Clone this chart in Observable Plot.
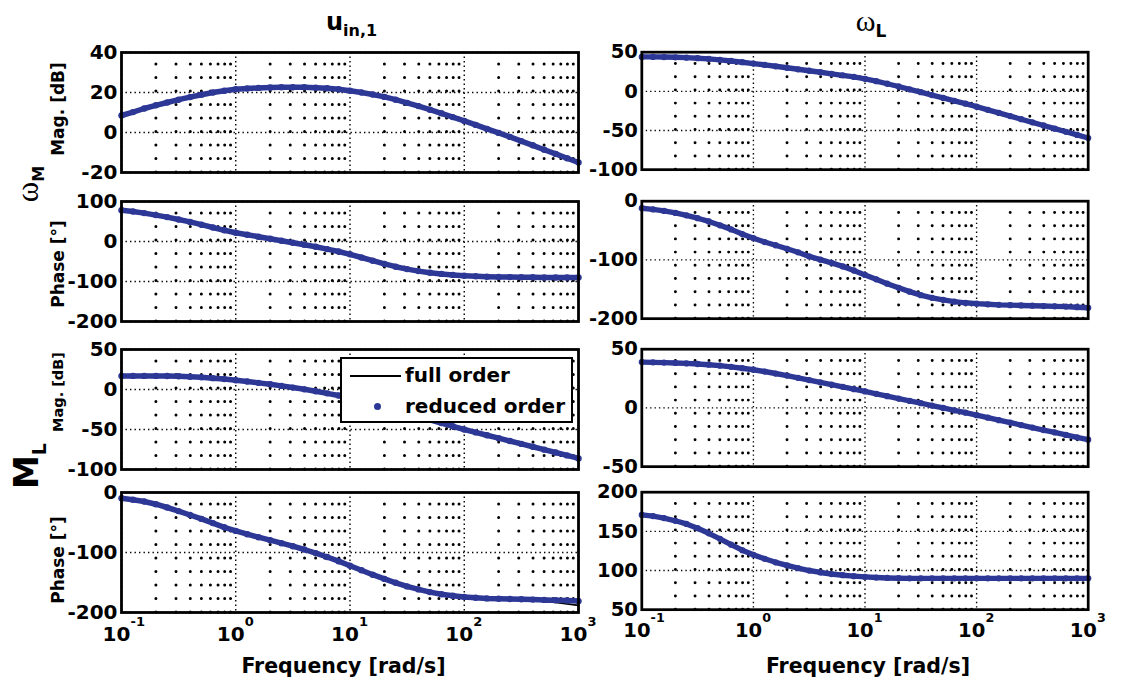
<!DOCTYPE html>
<html><head><meta charset="utf-8">
<script src="https://cdn.jsdelivr.net/npm/d3@7"></script>
<script src="https://cdn.jsdelivr.net/npm/@observablehq/plot@0.6"></script>
<style>
body{margin:0;background:#fff;}
#fig{position:relative;width:1121px;height:680px;font-family:"DejaVu Sans",sans-serif;font-weight:bold;color:#000;overflow:hidden;}
.lbl{position:absolute;white-space:nowrap;line-height:1;}
</style></head><body><div id="fig"></div>
<script>
// ---------- data ----------
const freq = [0.1,0.126,0.158,0.2,0.251,0.316,0.398,0.501,0.631,0.794,1,1.26,1.58,2,2.51,3.16,3.98,5.01,6.31,7.94,10,12.6,15.8,20,25.1,31.6,39.8,50.1,63.1,79.4,100,126,158,200,251,316,398,501,631,794,1000];
// output omega_M, input u_in,1
const magWM_u = [8.5,10.2,12.0,13.6,15.0,16.4,17.7,18.9,20.0,20.9,21.6,22.0,22.3,22.5,22.6,22.6,22.6,22.4,22.1,21.6,20.9,20.0,19.0,17.8,16.4,14.8,13.2,11.4,9.6,7.7,5.8,3.8,1.8,-0.2,-2.2,-4.3,-6.4,-8.6,-10.7,-12.9,-15.0];
const phWM_u = [78,75,71,66,61,55,49,42,35,28,22,17,12,7,2,-3,-8,-13,-19,-25,-32,-40,-48,-56,-63,-69,-74,-78,-81,-83.5,-85.5,-87,-88,-88.5,-89,-89.5,-89.5,-90,-90,-90,-90];
// output M_L, input u_in,1
const magML_u = [17,17,17,17,16.8,16.5,16,15.2,14.2,13,11.5,10,8.3,6.5,4.5,2.4,0.2,-2.2,-4.8,-7.5,-10.5,-14.3,-18.2,-22.1,-26,-30,-34,-38,-42,-46,-50,-53.6,-57.2,-60.8,-64.4,-68,-71.6,-75.2,-78.8,-82.4,-86.2];
const phML_u = [-9.5,-12,-15,-19.5,-25,-31,-37.5,-44,-51,-58,-64,-69.5,-74.5,-79.5,-84.5,-89.5,-95,-101,-107.5,-114.5,-122,-129.5,-137,-144,-150.5,-156.5,-161.5,-166,-169.5,-172,-174,-175.5,-176.5,-177,-177.5,-178,-178.5,-179,-179.5,-180,-181];
const phML_u_full = [-9.5,-12,-15,-19.5,-25,-31,-37.5,-44,-51,-58,-64,-69.5,-74.5,-79.5,-84.5,-89.5,-95,-101,-107.5,-114.5,-122,-129.5,-137,-144,-150.5,-156.5,-161.5,-166,-169.5,-172,-174,-175.5,-176.5,-177,-178,-179,-180,-181.5,-183,-185.5,-188];
// output omega_M, input omega_L
const magWM_wL = [44,44,43.8,43.5,43,42.3,41.4,40.2,38.8,37.2,35.5,33.8,32,30.1,28.2,26.3,24.4,22.4,20.5,18.4,16,13,9.7,6.2,2.6,-1,-4.7,-8.4,-12.1,-15.8,-19.6,-23.6,-27.6,-31.6,-35.6,-39.6,-43.6,-47.6,-51.6,-55.6,-59.6];
const phWM_wL = [-12,-14,-16.5,-20,-24,-29,-34.5,-41,-48,-56,-63,-69.5,-75,-81,-87,-94,-99.5,-105,-111,-118,-125.5,-133,-140.5,-147.5,-154,-160,-164.5,-168,-171,-173,-174.5,-175.5,-176.5,-177,-177.5,-178,-178.5,-179,-179.5,-180.5,-181.5];
// output M_L, input omega_L
const magML_wL = [39,38.8,38.6,38.3,37.9,37.4,36.8,36,35,33.8,32.5,31,29.3,27.5,25.6,23.7,21.8,19.9,18,16,14,12,10,8,6,4,2,0,-2,-4,-6.2,-8.3,-10.4,-12.5,-14.6,-16.7,-18.8,-20.9,-23,-25,-27];
const phML_wL = [171,169.5,167,163.5,159.5,154,147.5,140.5,133,126,120,115,110.5,106.5,103,100,97.5,95.5,94,92.8,91.8,91,90.5,90.2,90,90,90,90,90,90,90,90,90,90,90,90,90,90,90,90,90];

// ticks
const decades = [0.1,1,10,100,1000];
const decadeExp = ["-1","0","1","2","3"];
const minorX = [0.2,0.3,0.4,0.5,0.6,0.7,0.8,0.9,2,3,4,5,6,7,8,9,20,30,40,50,60,70,80,90,200,300,400,500,600,700,800,900];
const yTicks = {
  magWM_u:[-20,0,20,40], phWM_u:[-200,-100,0,100], magML_u:[-100,-50,0,50], phML_u:[-200,-100,0],
  magWM_wL:[-100,-50,0,50], phWM_wL:[-200,-100,0], magML_wL:[-50,0,50], phML_wL:[50,100,150,200]
};
const colTitles = ["u", "ω"];
const rowNames = ["ω", "M"];
const yLabels = ["Mag. [dB]","Phase [°]","Mag. [dB]","Phase [°]"];
const xLabel = "Frequency [rad/s]";
const legendLabels = ["full order","reduced order"];

// ---------- layout ----------
const BLUE = "#2d3896";
const colLeft = [121, 643], colWidth = [457, 456];
const rowTop = [52, 201, 349, 492], H = 120;
const mL = 80, mR = 34, mT = 14;
const yLabelY = [109, 264, 392, 560], yLabelSize = [17, 17, 14.5, 17];

const panels = [
  {col:0,row:0,y:magWM_u,key:"magWM_u"},
  {col:0,row:1,y:phWM_u,key:"phWM_u"},
  {col:0,row:2,y:magML_u,key:"magML_u"},
  {col:0,row:3,y:phML_u,full:phML_u_full,key:"phML_u"},
  {col:1,row:0,y:magWM_wL,key:"magWM_wL"},
  {col:1,row:1,y:phWM_wL,key:"phWM_wL"},
  {col:1,row:2,y:magML_wL,key:"magML_wL"},
  {col:1,row:3,y:phML_wL,key:"phML_wL"}
];

const fig = document.getElementById("fig");
function place(el, left, top){
  const d = document.createElement("div");
  d.style.position = "absolute"; d.style.left = left + "px"; d.style.top = top + "px";
  d.appendChild(el); fig.appendChild(d);
}
function label(html, cx, cy, css, rotate){
  const d = document.createElement("div");
  d.className = "lbl"; d.innerHTML = html;
  d.style.left = cx + "px"; d.style.top = cy + "px";
  d.style.transform = "translate(-50%,-50%)" + (rotate ? " rotate(-90deg)" : "");
  d.style.cssText += css || "";
  fig.appendChild(d);
}

const decadeTicks = decades.map((v,i)=>({v, e: decadeExp[i]}));

for (const p of panels){
  const ticks = yTicks[p.key];
  const dom = [ticks[0], ticks[ticks.length-1]];
  const bottom = p.row === 3;
  const mB = bottom ? 50 : 14;
  const data = freq.map((f,i)=>({f, red:p.y[i], full:(p.full||p.y)[i]}));
  const marks = [
    Plot.ruleX(minorX, {y1: dom[0], y2: dom[1], stroke:"black", strokeWidth:3, strokeLinecap:"round", strokeDasharray:"0,13.5"}),
    Plot.ruleX(decades, {stroke:"black", strokeWidth:1.4, strokeDasharray:"1.4,3.1"}),
    Plot.ruleY(ticks, {stroke:"black", strokeWidth:1.4, strokeDasharray:"1.4,3.1"}),
    Plot.line(data, {x:"f", y:"full", stroke:"black", strokeWidth:1.8}),
    Plot.line(data, {x:"f", y:"red", stroke:BLUE, strokeWidth:5.5, strokeLinejoin:"round", strokeLinecap:"round"}),
    Plot.dot(data, {x:"f", y:"red", r:3.2, fill:BLUE, stroke:"none"}),
    Plot.frame({stroke:"black", strokeWidth:2.8}),
    Plot.axisY({ticks, tickSize:0, tickPadding:4, tickFormat:d=>String(d), label:null})
  ];
  if (bottom){
    marks.push(Plot.axisX({ticks:decades, tickSize:0, tickPadding:14, tickFormat:()=>"10", label:null, dx:-5}));
    marks.push(Plot.text(decadeTicks, {x:"v", text:"e", frameAnchor:"bottom", dy:13, dx:9, textAnchor:"start", fontSize:13}));
  }
  const svg = Plot.plot({
    width: colWidth[p.col] + mL + mR,
    height: H + mT + mB,
    marginLeft:mL, marginRight:mR, marginTop:mT, marginBottom:mB,
    x:{type:"log", domain:[0.1,1000], label:null, axis: bottom ? undefined : null},
    y:{domain:dom, label:null},
    style:"background:transparent;overflow:visible;font-family:'DejaVu Sans',sans-serif;font-weight:bold;font-size:20px;color:black;",
    marks
  });
  place(svg, colLeft[p.col] - mL, rowTop[p.row] - mT);
  if (p.col === 0){
    label(yLabels[p.row], 58, yLabelY[p.row], `font-size:${yLabelSize[p.row]}px;`, true);
  }
}

// column titles
label(`<span style="font-size:24px">${colTitles[0]}</span><span style="font-size:16px;position:relative;top:6px">in,1</span>`, colLeft[0] + colWidth[0]/2 + 2, 22, "");
label(`<span style="font-family:'Liberation Serif','DejaVu Serif',serif;font-weight:normal;font-size:30px">${colTitles[1]}</span><span style="font-size:17px;position:relative;top:6px">L</span>`, colLeft[1] + colWidth[1]/2, 21, "");
// row labels
label(`<span style="font-family:'Liberation Serif','DejaVu Serif',serif;font-weight:normal;font-size:31px">${rowNames[0]}</span><span style="font-size:16px;position:relative;top:6px">M</span>`, 27, 184, "", true);
label(`<span style="font-size:34px">${rowNames[1]}</span><span style="font-size:19px;position:relative;top:8px">L</span>`, 26, 466, "", true);
// x labels
label(xLabel, colLeft[0] + colWidth[0]/2 - 6, 666, "font-size:20.5px;");
label(xLabel, colLeft[1] + colWidth[1]/2 - 3, 666, "font-size:20.5px;");

// legend (inside panel M_L / u_in,1)
const lg = document.createElement("div");
lg.style.cssText = "position:absolute;left:340px;top:357px;width:229px;height:62px;border:2px solid #000;background:#fff;font-size:20px;";
lg.innerHTML = `
<div style="position:absolute;left:8px;top:16px;width:51px;height:2px;background:#000"></div>
<div class="lbl" style="left:63px;top:6px">${legendLabels[0]}</div>
<div style="position:absolute;left:32px;top:44px;width:7px;height:7px;border-radius:50%;background:${BLUE}"></div>
<div class="lbl" style="left:63px;top:37px">${legendLabels[1]}</div>`;
fig.appendChild(lg);
</script></body></html>
